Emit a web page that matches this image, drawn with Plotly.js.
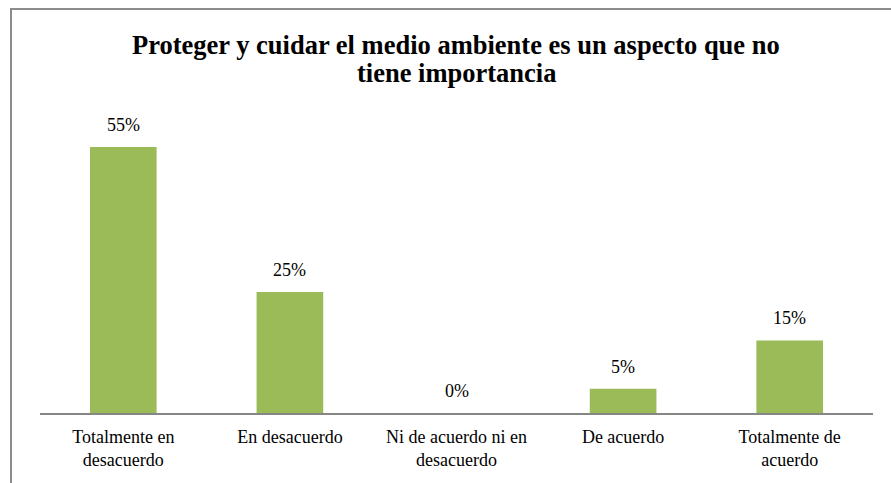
<!DOCTYPE html>
<html>
<head>
<meta charset="utf-8">
<script src="https://cdn.plot.ly/plotly-3.0.1.min.js"></script>
<style>
  html, body { margin: 0; padding: 0; background: #fff; }
  #chart { width: 891px; height: 483px; position: absolute; left: 0; top: 0; }
  #frame { position: absolute; left: 10px; top: 8px; width: 900px; height: 500px;
           border-top: 2px solid #8c8c8c; border-left: 2px solid #8c8c8c; pointer-events: none; }
</style>
</head>
<body>
<div id="chart"></div>
<div id="frame"></div>
<script>
const categories = ["Totalmente en<br>desacuerdo", "En desacuerdo", "Ni de acuerdo ni en<br>desacuerdo", "De acuerdo", "Totalmente de<br>acuerdo"];
const values = [55, 25, 0, 5, 15];
const labels = ["55%", "25%", "0%", "5%", "15%"];
const titleLines = ["Proteger y cuidar el medio ambiente es un aspecto que no", "tiene importancia"];

const serifFamily = "Liberation Serif";

const trace = {
  type: "bar",
  x: categories,
  y: values,
  marker: { color: "#9bbb59" },
  width: 0.4,
  hoverinfo: "skip"
};

const annotations = categories.map((c, i) => ({
  x: c, y: values[i], text: labels[i],
  xref: "x", yref: "y", showarrow: false,
  yanchor: "bottom", yshift: 10,
  font: { family: serifFamily, size: 18, color: "#000" }
}));

const titleY = [1.1757, 1.0863];
titleLines.forEach((t, i) => annotations.push({
  xref: "paper", yref: "paper", x: 0.4994, y: titleY[i],
  xanchor: "center", yanchor: "middle", showarrow: false,
  text: "<b>" + t + "</b>",
  font: { family: serifFamily, size: 26.5, color: "#000" }
}));

const layout = {
  width: 891, height: 483,
  margin: { l: 40, r: 18, t: 100, b: 70 },
  paper_bgcolor: "#fff", plot_bgcolor: "#fff",
  showlegend: false,
  font: { family: serifFamily, size: 18, color: "#000" },
  xaxis: {
    type: "category",
    showline: true, linecolor: "#868686", linewidth: 2,
    ticks: "", showgrid: false, zeroline: false,
    ticklabelstandoff: 6,
    tickfont: { family: serifFamily, size: 18, color: "#000" },
    fixedrange: true
  },
  yaxis: {
    range: [0, 64.7],
    visible: false, showgrid: false, zeroline: false,
    fixedrange: true
  },
  annotations: annotations,
  bargap: 0.6
};

Plotly.newPlot("chart", [trace], layout, { displayModeBar: false, staticPlot: true });
</script>
</body>
</html>
